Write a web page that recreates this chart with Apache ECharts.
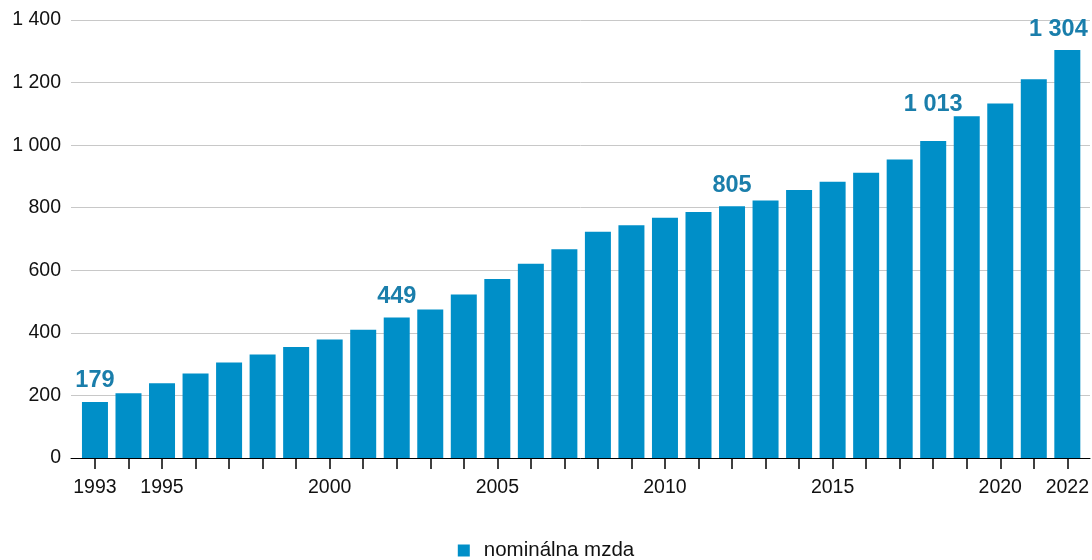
<!DOCTYPE html>
<html>
<head>
<meta charset="utf-8">
<script src="https://cdn.jsdelivr.net/npm/echarts@6/dist/echarts.min.js"></script>
<style>
  html, body { margin: 0; padding: 0; background: #fff; }
  #chart { width: 1092px; height: 560px; }
</style>
</head>
<body>
<div id="chart"></div>
<script>
// Priemerná nominálna mzda (EUR), 1993–2022
const years = ['1993','1994','1995','1996','1997','1998','1999','2000','2001','2002',
               '2003','2004','2005','2006','2007','2008','2009','2010','2011','2012',
               '2013','2014','2015','2016','2017','2018','2019','2020','2021','2022'];
const wages = [179, 207, 239, 270, 305, 331, 355, 379, 410, 449,
               475, 523, 572, 621, 667, 723, 744, 768, 786, 805,
               823, 857, 883, 912, 954, 1013, 1092, 1133, 1211, 1304];
const labeledYears = ['1993', '2002', '2012', '2018', '2022'];
const tickLabelYears = ['1993', '1995', '2000', '2005', '2010', '2015', '2020', '2022'];
const yTicks = { min: 0, max: 1400, step: 200 };
const seriesName = 'nominálna mzda';

const FONT = '"Liberation Sans", Arial, sans-serif';
const BAR = '#008fc8';
const LABEL = '#1a7eab';
const TEXT = '#111111';

const fmtThousands = v => String(v).replace(/\B(?=(\d{3})+(?!\d))/g, ' ');

// label nudges so the value text clears neighbouring bars and the right edge
const labelOffsets = { '2018': [0, -16], '2022': [-9, 0] };

const barData = wages.map((v, i) => {
  const item = { value: v };
  if (labeledYears.includes(years[i])) {
    item.label = { show: true };
    if (labelOffsets[years[i]]) item.label.offset = labelOffsets[years[i]];
  }
  return item;
});

const chart = echarts.init(document.getElementById('chart'), null, { renderer: 'canvas' });
chart.setOption({
  animation: false,
  textStyle: { fontFamily: FONT },
  grid: [
    // frame grid: gridlines, y labels and baseline
    { left: 71, right: 2, top: 20, bottom: 102 },
    // bar grid
    { left: 78.2, right: 7.3, top: 20, bottom: 102 }
  ],
  xAxis: [
    {
      gridIndex: 0, type: 'value', min: 0, max: 1,
      axisLine: { show: true, lineStyle: { color: '#000', width: 1 } },
      axisTick: { show: false }, axisLabel: { show: false }, splitLine: { show: false }
    },
    {
      gridIndex: 1, type: 'category', data: years, boundaryGap: true,
      axisLine: { show: false },
      axisTick: { show: true, alignWithLabel: true, interval: 0, length: 11,
                  lineStyle: { color: '#000', width: 1.5 } },
      axisLabel: {
        interval: 0, margin: 20, color: TEXT, fontSize: 19.5, fontFamily: FONT,
        formatter: v => tickLabelYears.includes(v) ? v : ''
      },
      splitLine: { show: false }
    }
  ],
  yAxis: [
    {
      gridIndex: 0, type: 'value', min: yTicks.min, max: yTicks.max, interval: yTicks.step,
      axisLine: { show: false }, axisTick: { show: false },
      axisLabel: { color: TEXT, fontSize: 19.5, fontFamily: FONT, margin: 10, formatter: fmtThousands },
      splitLine: { lineStyle: { color: '#c8c8c8', width: 1 } }
    },
    {
      gridIndex: 1, type: 'value', min: yTicks.min, max: yTicks.max, interval: yTicks.step,
      show: false, splitLine: { show: false }
    }
  ],
  legend: {
    data: [seriesName],
    left: 'center', top: 535,
    icon: 'rect', itemWidth: 12, itemHeight: 12,
    textStyle: { color: TEXT, fontSize: 20.5, fontFamily: FONT, padding: [0, 0, 0, 9] }
  },
  series: [{
    name: seriesName,
    type: 'bar',
    xAxisIndex: 1, yAxisIndex: 1,
    data: barData,
    barWidth: 26,
    itemStyle: { color: BAR },
    label: {
      show: false, position: 'top', distance: 9,
      color: LABEL, fontSize: 23.5, fontWeight: 'bold', fontFamily: FONT,
      formatter: p => fmtThousands(p.value)
    }
  }]
});
</script>
</body>
</html>
